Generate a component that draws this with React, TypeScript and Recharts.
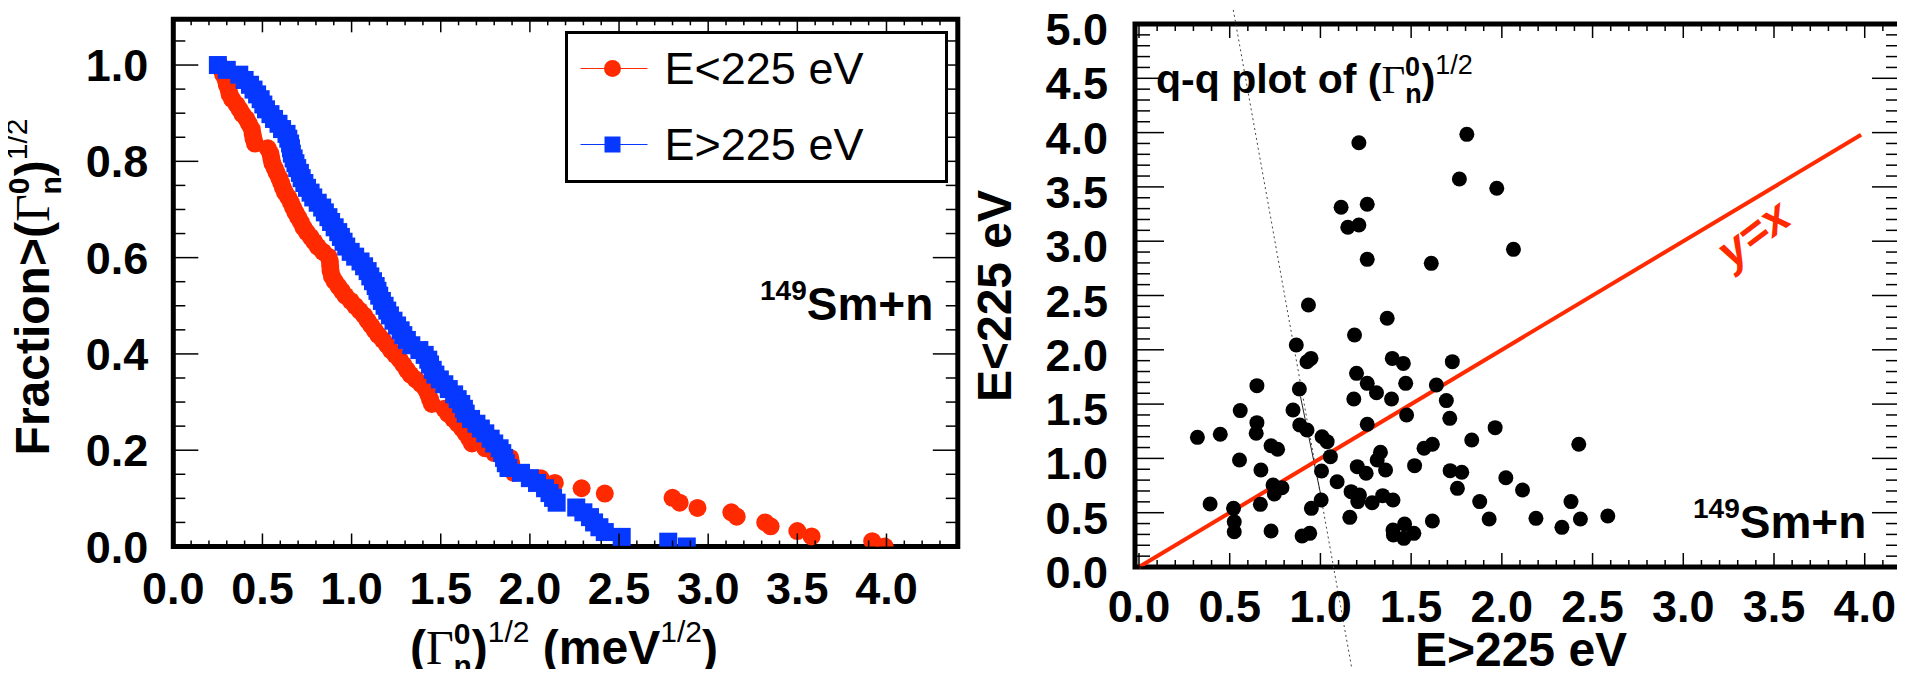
import React from "react";
import { ScatterChart, Scatter, XAxis, YAxis, ReferenceArea, ReferenceLine, Legend } from "recharts";

const RED = "#ff2a00";
const BLUE = "#0638ff";
const SANS = '"Liberation Sans", Arial, Helvetica, sans-serif';
const SERIF = '"Liberation Serif", "Times New Roman", serif';

// fraction of resonances with (Gamma_n^0)^1/2 above x, E < 225 eV
const lowEnergy: [number, number][] = [
  [0.26, 1.0], [0.27, 0.99], [0.28, 0.98], [0.294, 0.969], [0.3, 0.959], [0.31, 0.949],
  [0.316, 0.939], [0.33, 0.929], [0.355, 0.918], [0.372, 0.908], [0.388, 0.898], [0.41, 0.888],
  [0.425, 0.878], [0.44, 0.867], [0.445, 0.857], [0.45, 0.847], [0.458, 0.837], [0.53, 0.827],
  [0.545, 0.816], [0.55, 0.806], [0.556, 0.796], [0.568, 0.786], [0.58, 0.776], [0.595, 0.765],
  [0.605, 0.755], [0.615, 0.745], [0.627, 0.735], [0.645, 0.725], [0.66, 0.714], [0.672, 0.704],
  [0.685, 0.694], [0.7, 0.684], [0.715, 0.674], [0.73, 0.663], [0.748, 0.653], [0.77, 0.643],
  [0.79, 0.633], [0.81, 0.623], [0.84, 0.612], [0.87, 0.602], [0.878, 0.592], [0.88, 0.582],
  [0.882, 0.572], [0.89, 0.561], [0.905, 0.551], [0.925, 0.541], [0.945, 0.531], [0.965, 0.521],
  [0.995, 0.51], [1.02, 0.5], [1.045, 0.49], [1.07, 0.48], [1.09, 0.469], [1.11, 0.459],
  [1.13, 0.449], [1.15, 0.439], [1.175, 0.429], [1.2, 0.418], [1.22, 0.408], [1.245, 0.398],
  [1.27, 0.388], [1.29, 0.378], [1.31, 0.367], [1.33, 0.357], [1.36, 0.347], [1.39, 0.337],
  [1.415, 0.327], [1.43, 0.316], [1.44, 0.306], [1.45, 0.296], [1.52, 0.286], [1.54, 0.276],
  [1.57, 0.265], [1.595, 0.255], [1.62, 0.245], [1.64, 0.235], [1.66, 0.224], [1.675, 0.214],
  [1.75, 0.204], [1.8, 0.194], [1.89, 0.184], [1.895, 0.173], [1.9, 0.163], [1.91, 0.153],
  [2.06, 0.142], [2.14, 0.132], [2.29, 0.121], [2.42, 0.11], [2.8, 0.101], [2.84, 0.091],
  [2.94, 0.08], [3.13, 0.071], [3.16, 0.062], [3.32, 0.05], [3.35, 0.042], [3.5, 0.032],
  [3.58, 0.021], [3.92, 0.011], [3.99, 0.0],
];

// same, E > 225 eV
const highEnergy: [number, number][] = [
  [0.25, 1.0], [0.3, 0.99], [0.37, 0.98], [0.4, 0.969], [0.43, 0.959], [0.45, 0.949],
  [0.47, 0.939], [0.49, 0.929], [0.505, 0.918], [0.52, 0.908], [0.545, 0.898], [0.565, 0.888],
  [0.59, 0.878], [0.61, 0.867], [0.635, 0.857], [0.645, 0.847], [0.655, 0.837], [0.66, 0.827],
  [0.665, 0.816], [0.675, 0.806], [0.685, 0.796], [0.695, 0.786], [0.71, 0.776], [0.72, 0.765],
  [0.735, 0.755], [0.75, 0.745], [0.77, 0.735], [0.785, 0.725], [0.81, 0.714], [0.835, 0.704],
  [0.85, 0.694], [0.87, 0.684], [0.885, 0.674], [0.905, 0.663], [0.925, 0.653], [0.94, 0.643],
  [0.955, 0.633], [0.97, 0.623], [0.995, 0.612], [1.02, 0.602], [1.05, 0.592], [1.07, 0.582],
  [1.09, 0.572], [1.105, 0.561], [1.12, 0.551], [1.135, 0.541], [1.145, 0.531], [1.155, 0.521],
  [1.17, 0.51], [1.185, 0.5], [1.2, 0.49], [1.215, 0.48], [1.235, 0.469], [1.255, 0.459],
  [1.275, 0.449], [1.29, 0.439], [1.31, 0.429], [1.335, 0.418], [1.38, 0.408], [1.41, 0.398],
  [1.43, 0.388], [1.44, 0.378], [1.455, 0.367], [1.47, 0.357], [1.495, 0.347], [1.52, 0.337],
  [1.545, 0.327], [1.575, 0.316], [1.595, 0.306], [1.615, 0.296], [1.63, 0.286], [1.64, 0.276],
  [1.67, 0.265], [1.7, 0.255], [1.725, 0.245], [1.75, 0.235], [1.78, 0.224], [1.8, 0.214],
  [1.83, 0.204], [1.845, 0.194], [1.855, 0.184], [1.865, 0.173], [1.88, 0.163], [1.95, 0.153],
  [2.0, 0.142], [2.04, 0.132], [2.085, 0.121], [2.11, 0.111], [2.13, 0.101], [2.15, 0.091],
  [2.26, 0.081], [2.3, 0.071], [2.337, 0.061], [2.36, 0.05], [2.39, 0.04], [2.42, 0.03],
  [2.515, 0.02], [2.776, 0.01], [2.88, 0.0],
];

// q-q pairs: x = E>225 eV quantile, y = E<225 eV quantile
const qqPairs: [number, number][] = [
  [1.212, 3.907], [1.807, 3.984], [1.766, 3.573], [1.972, 3.487], [1.114, 3.312], [1.258, 3.34],
  [1.151, 3.128], [1.212, 3.149], [2.064, 2.925], [1.258, 2.833], [1.611, 2.796], [0.934, 2.413],
  [1.368, 2.29], [1.188, 2.136], [0.867, 2.044], [0.948, 1.921], [0.926, 1.89], [1.396, 1.921],
  [1.457, 1.875], [1.727, 1.891], [1.199, 1.783], [1.258, 1.691], [1.309, 1.605], [1.47, 1.691],
  [1.639, 1.676], [0.65, 1.67], [0.884, 1.639], [1.184, 1.547], [1.392, 1.547], [1.694, 1.532],
  [0.558, 1.44], [0.849, 1.446], [1.475, 1.4], [1.713, 1.369], [0.65, 1.329], [0.646, 1.231],
  [0.886, 1.308], [0.926, 1.261], [1.258, 1.314], [1.963, 1.283], [0.322, 1.194], [0.448, 1.222],
  [1.009, 1.2], [1.037, 1.154], [1.834, 1.169], [2.424, 1.13], [0.728, 1.117], [0.764, 1.084],
  [1.571, 1.093], [1.617, 1.13], [1.331, 1.056], [1.055, 1.016], [1.313, 0.985], [0.554, 0.985],
  [1.519, 0.933], [1.203, 0.924], [0.672, 0.893], [1.006, 0.884], [1.252, 0.863], [1.359, 0.893],
  [1.715, 0.887], [1.779, 0.872], [2.022, 0.822], [1.092, 0.785], [1.755, 0.724], [2.114, 0.709],
  [0.739, 0.755], [0.788, 0.73], [0.746, 0.672], [1.169, 0.694], [1.215, 0.663], [1.206, 0.602],
  [1.285, 0.592], [1.343, 0.657], [1.4, 0.617], [1.004, 0.617], [0.95, 0.54], [0.392, 0.58],
  [0.521, 0.54], [0.669, 0.577], [1.878, 0.602], [2.381, 0.602], [1.162, 0.457], [1.617, 0.424],
  [1.93, 0.442], [2.188, 0.448], [2.433, 0.442], [2.331, 0.365], [0.525, 0.417], [0.525, 0.325],
  [0.728, 0.331], [0.899, 0.285], [0.941, 0.31], [1.4, 0.341], [1.464, 0.396], [1.402, 0.295],
  [1.46, 0.264], [1.515, 0.31], [2.584, 0.47],
];

const diagonal = [{ x: 0, y: 0 }, { x: 3.98, y: 3.98 }];

// stray pen stroke crossing the right pad in the original slide
const strayDashed = [{ x: 0.51, y: 5.22 }, { x: 1.18, y: -1.0 }];
const straySolid = [{ x: 0.89, y: 1.57 }, { x: 1.0, y: 0.68 }];

const steps = (n: number, d: number) => Array.from({ length: n }, (_, i) => +(i * d).toFixed(2));
const leftXTicks = steps(44, 0.1);
const leftYTicks = steps(22, 0.05);
const rightXTicks = steps(42, 0.1);
const rightYTicks = steps(51, 0.1);

const toPts = (a: [number, number][]) => a.map(([x, y]) => ({ x, y }));

type Geom = { left: number; right: number; top: number; bottom: number };
const LG: Geom = { left: 173.3, right: 957.8, top: 19.3, bottom: 546.5 };
const RG: Geom = { left: 175, right: 941, top: 24, bottom: 567 };

const isMajor = (v: number, step: number) => Math.abs(v / step - Math.round(v / step)) < 1e-6;

const labelStyle = { fontFamily: SANS, fontWeight: 700, fontSize: 45, fill: "#000" } as const;

function xTick(g: Geom, step: number, majorLen: number, minorLen: number, gap: number) {
  return (props: any) => {
    const { x, payload } = props;
    const v = payload.value as number;
    const big = isMajor(v, step);
    const len = big ? majorLen : minorLen;
    return (
      <g>
        <line x1={x} y1={g.bottom} x2={x} y2={g.bottom - len} stroke="#000" strokeWidth={1.5} />
        <line x1={x} y1={g.top} x2={x} y2={g.top + len} stroke="#000" strokeWidth={1.5} />
        {big && v <= 4.0 && (
          <text x={x} y={g.bottom + gap} textAnchor="middle" {...labelStyle}>{v.toFixed(1)}</text>
        )}
      </g>
    );
  };
}

function yTick(g: Geom, step: number, majorLen: number, minorLen: number, gap: number, dy: number) {
  return (props: any) => {
    const { y, payload } = props;
    const v = payload.value as number;
    const big = isMajor(v, step);
    const len = big ? majorLen : minorLen;
    return (
      <g>
        <line x1={g.left} y1={y} x2={g.left + len} y2={y} stroke="#000" strokeWidth={1.5} />
        <line x1={g.right} y1={y} x2={g.right - len} y2={y} stroke="#000" strokeWidth={1.5} />
        {big && (
          <text x={g.left - gap} y={y + dy} textAnchor="end" {...labelStyle}>{v.toFixed(1)}</text>
        )}
      </g>
    );
  };
}

const RedDot = (p: any) => <circle cx={p.cx} cy={p.cy} r={9} fill={RED} />;
const BlueSquare = (p: any) => <rect x={p.cx - 9} y={p.cy - 9} width={18} height={18} fill={BLUE} />;
const BlackDot = (p: any) => <circle cx={p.cx} cy={p.cy} r={7.5} fill="#000" />;

const LegendBox = () => (
  <div style={{ width: 383, height: 152, border: "3.5px solid #000", boxSizing: "border-box", background: "#fff" }}>
    <svg width={376} height={145} style={{ display: "block" }}>
      <line x1={12.5} y1={34.5} x2={79.5} y2={34.5} stroke={RED} strokeWidth={1.2} />
      <circle cx={44.5} cy={34.5} r={8.5} fill={RED} />
      <text x={96.5} y={49.5} fontFamily={SANS} fontSize={45}>E&lt;225 eV</text>
      <line x1={12.5} y1={110.5} x2={79.5} y2={110.5} stroke={BLUE} strokeWidth={1.2} />
      <rect x={36.5} y={102.5} width={16} height={16} fill={BLUE} />
      <text x={96.5} y={125.5} fontFamily={SANS} fontSize={45}>E&gt;225 eV</text>
    </svg>
  </div>
);

export default function App() {
  const LW = 975;
  const RW = 945;
  const H = 677;
  // axes get 1px of room (a zero-size axis is not drawn), the margins give the rest
  return (
    <div style={{ position: "relative", width: 1905, height: H, margin: -8, background: "#fff", overflow: "hidden" }}>
      <div style={{ position: "absolute", left: 0, top: 0 }}>
        <ScatterChart
          width={LW}
          height={H}
          margin={{ top: LG.top, left: LG.left - 1, right: LW - LG.right, bottom: H - LG.bottom - 1 }}
        >
          <XAxis
            type="number" dataKey="x" domain={[0, 4.4]} allowDataOverflow ticks={leftXTicks} interval={0}
            height={1} tickSize={0} tickMargin={0} axisLine={false} tickLine={false}
            tick={xTick(LG, 0.5, 13, 6, 57)}
          />
          <YAxis
            type="number" dataKey="y" domain={[0, 1.095]} allowDataOverflow ticks={leftYTicks} interval={0}
            width={1} tickSize={0} tickMargin={0} axisLine={false} tickLine={false}
            tick={yTick(LG, 0.2, 25, 12, 25, 16)}
          />
          <ReferenceArea x1={0} x2={4.4} y1={0} y2={1.095} fill="none" stroke="#000" strokeWidth={5} fillOpacity={0} />
          <Scatter data={toPts(lowEnergy)} shape={RedDot} isAnimationActive={false} />
          <Scatter data={toPts(highEnergy)} shape={BlueSquare} isAnimationActive={false} />
          <Legend
            layout="vertical" align="center" verticalAlign="middle"
            content={LegendBox}
            wrapperStyle={{ left: 565, top: 31, width: 383, height: 152 }}
          />
        </ScatterChart>
      </div>

      <div style={{ position: "absolute", left: 960, top: 0 }}>
        <ScatterChart
          width={RW}
          height={H}
          margin={{ top: RG.top, left: RG.left - 1, right: RW - RG.right, bottom: H - RG.bottom - 1 }}
        >
          <XAxis
            type="number" dataKey="x" domain={[-0.022, 4.2]} allowDataOverflow ticks={rightXTicks} interval={0}
            height={1} tickSize={0} tickMargin={0} axisLine={false} tickLine={false}
            tick={xTick(RG, 0.5, 14, 7, 55)}
          />
          <YAxis
            type="number" dataKey="y" domain={[0, 5]} allowDataOverflow ticks={rightYTicks} interval={0}
            width={1} tickSize={0} tickMargin={0} axisLine={false} tickLine={false}
            tick={yTick(RG, 0.5, 29, 15, 27, 21)}
          />
          <ReferenceLine segment={strayDashed} ifOverflow="visible" stroke="#444" strokeWidth={1} strokeDasharray="2 3" />
          <ReferenceLine segment={straySolid} ifOverflow="visible" stroke="#222" strokeWidth={1} />
          <Scatter data={toPts(qqPairs)} shape={BlackDot} isAnimationActive={false} />
          <ReferenceLine segment={diagonal} stroke={RED} strokeWidth={4} />
          <ReferenceArea x1={-0.022} x2={4.2} y1={0} y2={5} fill="none" stroke="#000" strokeWidth={5} fillOpacity={0} />
        </ScatterChart>
      </div>

      <svg width={1905} height={H} style={{ position: "absolute", left: 0, top: 0, pointerEvents: "none" }}>
        <polygon points="680,0 852,0 842,8 690,8" fill="#ececf7" />
        <polygon points="945,0 1316,0 1308,8 950,8" fill="#ececf7" />
        <polygon points="1445,0 1847,0 1840,8 1452,8" fill="#ececf7" />

        <g fontFamily={SANS} fontWeight={700} fill="#000">
          <text transform="translate(49,287) rotate(-90)" textAnchor="middle" fontSize={48}>
            Fraction&gt;(<tspan fontFamily={SERIF} fontWeight={400}>Γ</tspan>
            <tspan fontSize={30} dy={-20}>0</tspan>
            <tspan fontSize={30} dx={-17} dy={32}>n</tspan>
            <tspan dy={-12}>)</tspan>
            <tspan fontSize={30} fontWeight={400} dy={-22}>1/2</tspan>
          </text>

          <text x={564} y={664} textAnchor="middle" fontSize={48}>
            (<tspan fontFamily={SERIF} fontWeight={400}>Γ</tspan>
            <tspan fontSize={30} dy={-20}>0</tspan>
            <tspan fontSize={30} dx={-17} dy={32}>n</tspan>
            <tspan dy={-12}>)</tspan>
            <tspan fontSize={30} fontWeight={400} dy={-22}>1/2</tspan>
            <tspan dy={22}> (meV</tspan>
            <tspan fontSize={30} fontWeight={400} dy={-22}>1/2</tspan>
            <tspan dy={22}>)</tspan>
          </text>

          <text x={760} y={320} fontSize={46}>
            <tspan fontSize={28} dy={-20}>149</tspan>
            <tspan dy={20}>Sm+n</tspan>
          </text>

          <text transform="translate(1011,296) rotate(-90)" textAnchor="middle" fontSize={48}>E&lt;225 eV</text>
          <text x={1521} y={666} textAnchor="middle" fontSize={48}>E&gt;225 eV</text>

          <text x={1156} y={93} fontSize={41}>
            q-q plot of (<tspan fontFamily={SERIF} fontWeight={400}>Γ</tspan>
            <tspan fontSize={27} dy={-17}>0</tspan>
            <tspan fontSize={27} dx={-15} dy={27}>n</tspan>
            <tspan dy={-10}>)</tspan>
            <tspan fontSize={27} fontWeight={400} dy={-19}>1/2</tspan>
          </text>

          <text x={1693} y={538} fontSize={46}>
            <tspan fontSize={28} dy={-20}>149</tspan>
            <tspan dy={20}>Sm+n</tspan>
          </text>

          <text
            transform="translate(1753,233) rotate(-37)" textAnchor="middle" dominantBaseline="central"
            fontSize={46} fontStyle="italic" fill={RED}
          >
            y=x
          </text>
        </g>
      </svg>
    </div>
  );
}
